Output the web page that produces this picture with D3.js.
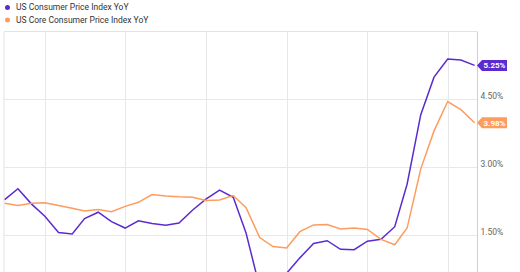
<!DOCTYPE html>
<html><head><meta charset="utf-8">
<script src="https://cdn.jsdelivr.net/npm/d3@7"></script>
<style>body{margin:0;background:#fff}svg{display:block}text{font-family:Roboto,"Open Sans",sans-serif}</style>
</head><body>
<svg id="c" width="520" height="272"></svg>
<script>
const months = ["2018-09","2018-10","2018-11","2018-12","2019-01","2019-02","2019-03","2019-04","2019-05","2019-06","2019-07","2019-08","2019-09","2019-10","2019-11","2019-12","2020-01","2020-02","2020-03","2020-04","2020-05","2020-06","2020-07","2020-08","2020-09","2020-10","2020-11","2020-12","2021-01","2021-02","2021-03","2021-04","2021-05","2021-06","2021-07","2021-08"];
const cpi = [2.28,2.52,2.18,1.91,1.55,1.52,1.86,2.00,1.79,1.65,1.81,1.75,1.71,1.76,2.05,2.29,2.49,2.33,1.54,0.33,0.12,0.65,0.99,1.31,1.37,1.18,1.17,1.36,1.40,1.68,2.62,4.16,4.99,5.39,5.37,5.25];
const core = [2.20,2.15,2.20,2.21,2.15,2.09,2.03,2.06,2.01,2.13,2.22,2.39,2.36,2.34,2.33,2.26,2.27,2.37,2.10,1.44,1.24,1.21,1.57,1.72,1.73,1.63,1.65,1.62,1.40,1.28,1.65,2.96,3.80,4.45,4.27,3.98];
const seriesNames = ["US Consumer Price Index YoY","US Core Consumer Price Index YoY"];
const colors = ["#5b2bd0","#fd9c5f"];
const yTicks = [1.5,3.0,4.5];
const gridMonths = ["2018-12","2019-06","2019-12","2020-06","2020-12","2021-06"];

const svg = d3.select("#c");
const parse = d3.timeParse("%Y-%m");
const dates = months.map(parse);
const L = 4, R = 477, T = 31.5;
const x = d3.scaleTime().domain([dates[0], dates[dates.length-1]]).range([4.7, 474.6]);
const y = d3.scaleLinear().domain([0, 6]).range([302.6, T]);

const g = svg.append("g");
// plot frame
g.append("line").attr("x1",L).attr("x2",R).attr("y1",T).attr("y2",T).attr("stroke","#e3e3e3");
g.append("line").attr("x1",L).attr("x2",L).attr("y1",T).attr("y2",272).attr("stroke","#e3e3e3");
// vertical grid
g.selectAll(".vg").data(gridMonths.map(parse)).join("line")
  .attr("x1",d=>Math.round(x(d))+0.5).attr("x2",d=>Math.round(x(d))+0.5)
  .attr("y1",T).attr("y2",272).attr("stroke","#e8e8e8");
// horizontal grid
g.selectAll(".hg").data(yTicks).join("line")
  .attr("x1",L).attr("x2",R).attr("y1",d=>Math.round(y(d))+0.5).attr("y2",d=>Math.round(y(d))+0.5)
  .attr("stroke","#e8e8e8");
// right axis
const ax = svg.append("g").attr("transform",`translate(${R+0.5},0)`)
  .call(d3.axisRight(y).tickValues(yTicks).tickSize(0).tickPadding(3).tickFormat(d=>d3.format(".2f")(d)+"%"));
ax.select(".domain").attr("stroke","#cfcfcf").attr("d",`M0,${T}V272`);
ax.selectAll("text").attr("fill","#666").attr("font-size","8.5px").attr("dy","-0.05em");

// lines
const clip = svg.append("clipPath").attr("id","cl").append("rect").attr("x",L).attr("y",T).attr("width",R-L).attr("height",300);
[cpi, core].forEach((s,k)=>{
  svg.append("path").datum(s).attr("clip-path","url(#cl)")
    .attr("fill","none").attr("stroke",colors[k]).attr("stroke-width",1.5)
    .attr("d", d3.line().x((d,i)=>x(dates[i])).y(d=>y(d)));
});
// end labels
[cpi, core].forEach((s,k)=>{
  const v = s[s.length-1];
  const yy = y(v);
  const lg = svg.append("g").attr("transform",`translate(${R},${yy})`);
  lg.append("path").attr("d","M0,0 L5,-5.5 H30 V5.5 H5 Z").attr("fill",colors[k]);
  lg.append("text").attr("x",17.5).attr("y",0).attr("dy","0.35em").attr("text-anchor","middle")
    .attr("fill","#fff").attr("font-size","8px").attr("font-weight","bold").text(d3.format(".2f")(v)+"%");
});
// legend
const leg = svg.append("g");
seriesNames.forEach((n,k)=>{
  const yy = 7.5 + k*12.5;
  leg.append("circle").attr("cx",7.5).attr("cy",yy).attr("r",2.5).attr("fill",colors[k]);
  leg.append("text").attr("x",16).attr("y",yy).attr("dy","0.35em").attr("fill","#333")
    .attr("font-size","8.5px").text(n);
});
</script>
</body></html>
